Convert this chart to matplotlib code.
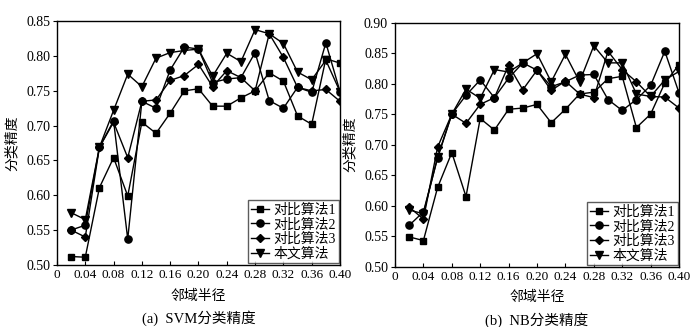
import numpy as np
import matplotlib
matplotlib.use('Agg')
import matplotlib.pyplot as plt

plt.rcParams['font.family'] = ['Liberation Serif', 'Noto Sans CJK SC']
plt.rcParams['axes.unicode_minus'] = False

# neighbourhood radius
radius = [0.02, 0.04, 0.06, 0.08, 0.10, 0.12, 0.14, 0.16, 0.18, 0.20,
          0.22, 0.24, 0.26, 0.28, 0.30, 0.32, 0.34, 0.36, 0.38, 0.40]

labels = ['对比算法1', '对比算法2', '对比算法3', '本文算法']
markers = ['s', 'o', 'D', 'v']

# (a) SVM
svm_alg1 = [0.512, 0.511, 0.611, 0.654, 0.599, 0.705, 0.689, 0.718, 0.750, 0.753,
            0.728, 0.728, 0.740, 0.750, 0.776, 0.764, 0.714, 0.702, 0.796, 0.790]
svm_alg2 = [0.550, 0.557, 0.669, 0.707, 0.537, 0.735, 0.725, 0.780, 0.813, 0.810,
            0.762, 0.767, 0.769, 0.805, 0.736, 0.725, 0.755, 0.748, 0.819, 0.749]
svm_alg3 = [0.550, 0.540, 0.669, 0.705, 0.654, 0.735, 0.737, 0.765, 0.772, 0.788,
            0.756, 0.779, 0.769, 0.750, 0.832, 0.798, 0.755, 0.750, 0.752, 0.735]
svm_ours = [0.575, 0.565, 0.669, 0.722, 0.774, 0.756, 0.797, 0.805, 0.808, 0.810,
            0.771, 0.804, 0.792, 0.838, 0.832, 0.818, 0.777, 0.766, 0.794, 0.749]

# (b) NB
nb_alg1 = [0.549, 0.543, 0.630, 0.687, 0.615, 0.743, 0.724, 0.758, 0.760, 0.766,
           0.736, 0.758, 0.783, 0.786, 0.808, 0.812, 0.728, 0.750, 0.801, 0.831]
nb_alg2 = [0.568, 0.590, 0.678, 0.750, 0.781, 0.806, 0.777, 0.809, 0.834, 0.822,
           0.795, 0.803, 0.814, 0.815, 0.774, 0.756, 0.774, 0.797, 0.853, 0.785]
nb_alg3 = [0.598, 0.578, 0.696, 0.750, 0.735, 0.766, 0.777, 0.830, 0.790, 0.822,
           0.789, 0.804, 0.783, 0.777, 0.853, 0.823, 0.803, 0.779, 0.778, 0.760]
nb_ours = [0.593, 0.587, 0.680, 0.750, 0.791, 0.776, 0.823, 0.819, 0.834, 0.849,
           0.803, 0.848, 0.803, 0.862, 0.834, 0.834, 0.783, 0.779, 0.806, 0.820]

xticks = [0, 0.04, 0.08, 0.12, 0.16, 0.20, 0.24, 0.28, 0.32, 0.36, 0.40]
xticklabels = ['0', '0.04', '0.08', '0.12', '0.16', '0.20', '0.24', '0.28', '0.32', '0.36', '0.40']

fig = plt.figure(figsize=(7, 3.27), dpi=100)
ax1 = fig.add_axes([0.0814, 0.190, 0.4043, 0.745])
ax2 = fig.add_axes([0.5643, 0.184, 0.4057, 0.747])


def draw(ax, series, ylim, yticks, title):
    sizes = {'s': 4.8, 'o': 5.2, 'D': 4.2, 'v': 5.5}
    for ys, m, lab in zip(series, markers, labels):
        ax.plot(radius, ys, color='black', marker=m, markersize=sizes[m],
                linewidth=1.0, label=lab)
    ax.set_xlim(0, 0.40)
    ax.set_ylim(*ylim)
    ax.set_xticks(xticks)
    ax.set_xticklabels(xticklabels)
    ax.set_yticks(yticks)
    ax.set_yticklabels([f'{v:.2f}' for v in yticks])
    ax.tick_params(axis='x', direction='in', length=3, labelsize=9.5, pad=3)
    ax.tick_params(axis='y', direction='out', length=3, labelsize=10, pad=2)
    for s in ax.spines.values():
        s.set_linewidth(1.0)
    ax.set_xlabel('邻域半径', fontsize=10, labelpad=6)
    ax.set_ylabel('分类精度', fontsize=10, labelpad=5)
    ax.text(0.5, -0.22, title, transform=ax.transAxes, ha='center', va='center',
            fontsize=10.5)
    leg = ax.legend(loc='lower right', fontsize=10, frameon=True, fancybox=False,
                    borderaxespad=0.1, handlelength=1.3, handletextpad=0.3,
                    labelspacing=0.1, borderpad=0.2, markerscale=1.0)
    leg.get_frame().set_edgecolor('#333333')
    leg.get_frame().set_linewidth(1.0)


draw(ax1, [svm_alg1, svm_alg2, svm_alg3, svm_ours], (0.50, 0.85),
     [0.50, 0.55, 0.60, 0.65, 0.70, 0.75, 0.80, 0.85], '(a)  SVM分类精度')
draw(ax2, [nb_alg1, nb_alg2, nb_alg3, nb_ours], (0.50, 0.90),
     [0.50, 0.55, 0.60, 0.65, 0.70, 0.75, 0.80, 0.85, 0.90], '(b)  NB分类精度')

fig.savefig('out.png', dpi=100, facecolor='white')
